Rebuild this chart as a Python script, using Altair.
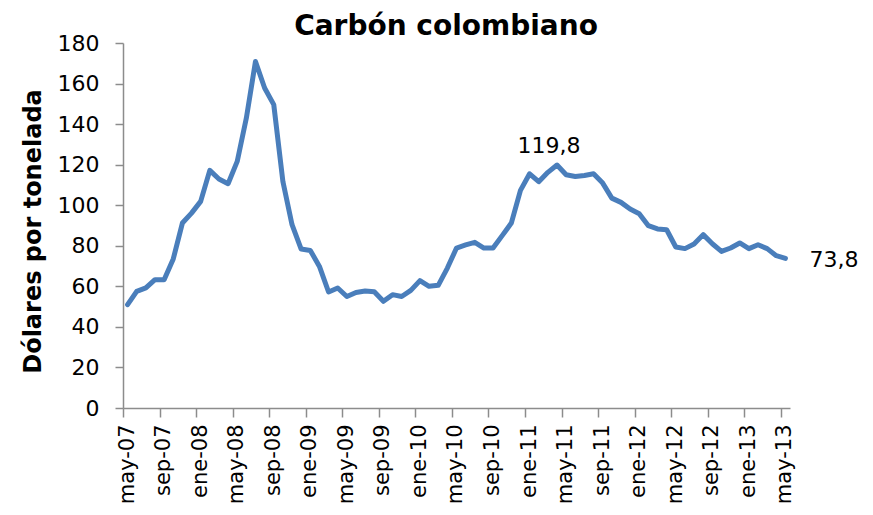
import altair as alt
import pandas as pd

# Data (monthly, may-07 .. may-13)
month_abbr = ["ene", "feb", "mar", "abr", "may", "jun", "jul", "ago", "sep", "oct", "nov", "dic"]
months = []
y, m = 2007, 4
for _ in range(73):
    months.append(f"{month_abbr[m]}-{str(y)[2:]}")
    m += 1
    if m == 12:
        m = 0
        y += 1

values = [
    51.0, 57.5, 59.2, 63.3, 63.3, 73.5, 91.2, 96.1, 101.9, 117.2,
    112.9, 110.6, 121.6, 143.0, 170.9, 157.8, 149.6, 111.7, 90.4, 78.4,
    77.7, 69.8, 57.2, 59.2, 55.0, 57.0, 57.7, 57.3, 52.6, 55.9,
    55.0, 58.0, 62.8, 60.0, 60.5, 69.0, 78.9, 80.4, 81.7, 78.9,
    78.9, 85.0, 91.2, 107.3, 115.5, 111.6, 116.2, 119.8, 115.0, 114.2,
    114.7, 115.5, 110.9, 103.5, 101.4, 98.1, 95.8, 89.9, 88.3, 87.9,
    79.4, 78.6, 80.9, 85.5, 81.0, 77.2, 78.9, 81.4, 78.6, 80.5,
    78.6, 75.1, 73.8,
]

tick_labels = ["may-07", "sep-07", "ene-08", "may-08", "sep-08", "ene-09", "may-09",
               "sep-09", "ene-10", "may-10", "sep-10", "ene-11", "may-11", "sep-11",
               "ene-12", "may-12", "sep-12", "ene-13", "may-13"]
y_ticks = [0, 20, 40, 60, 80, 100, 120, 140, 160, 180]

chart_title = "Carbón colombiano"
y_title = "Dólares por tonelada"
annot_peak = "abr-11"
annot_last = "may-13"

df = pd.DataFrame({"idx": list(range(len(values))), "mes": months, "valor": values})
title_df = pd.DataFrame({"t": [chart_title]})

tick_vals = [4 * k - 0.5 for k in range(len(tick_labels))]
label_arr = "[" + ",".join(f"'{t}'" for t in tick_labels) + "]"

FONT = "DejaVu Sans"
GRAY = "#8c8c8c"

x_enc = alt.X(
    "idx:Q",
    scale=alt.Scale(domain=[-0.5, len(values) - 0.5], nice=False, zero=False),
    axis=alt.Axis(
        values=tick_vals,
        tickCount=len(tick_vals) + 2,
        labelExpr=f"{label_arr}[round((datum.value + 0.5) / 4)]",
        labelAngle=270,
        labelOffset=4,
        labelPadding=7,
        labelFont=FONT,
        labelFontSize=21,
        labelColor="black",
        tickSize=9,
        tickColor=GRAY,
        tickWidth=1.5,
        domainColor=GRAY,
        domainWidth=1.5,
        grid=False,
        title=None,
        labelOverlap=False,
        labelBound=False,
        labelFlush=False,
    ),
)
y_enc = alt.Y(
    "valor:Q",
    scale=alt.Scale(domain=[0, 180], nice=False),
    axis=alt.Axis(
        values=y_ticks,
        tickCount=len(y_ticks) + 2,
        labelFont=FONT,
        labelFontSize=22,
        labelColor="black",
        labelPadding=16,
        tickSize=8,
        tickColor=GRAY,
        tickWidth=1.5,
        domainColor=GRAY,
        domainWidth=1.5,
        grid=False,
        title=y_title,
        titleFont=FONT,
        titleFontSize=24,
        titleFontWeight="bold",
        titleColor="black",
        titleAngle=270,
        titleAlign="center",
        titleBaseline="alphabetic",
        titleX=-83,
        titleY=188,
        labelOverlap=False,
    ),
)

base = alt.Chart(df)

line = base.mark_line(color="#4a7ebb", strokeWidth=5, strokeJoin="round", strokeCap="round").encode(
    x=x_enc, y=y_enc
)

fmt = "replace(format(datum.valor, '.1f'), '.', ',')"

peak_text = base.transform_filter(alt.datum.mes == annot_peak).transform_calculate(
    lbl=fmt
).mark_text(
    font=FONT, fontSize=22, color="black", align="center", baseline="alphabetic", dx=-8, dy=-12
).encode(x="idx:Q", y="valor:Q", text="lbl:N")

last_text = base.transform_filter(alt.datum.mes == annot_last).transform_calculate(
    lbl=fmt
).mark_text(
    font=FONT, fontSize=22, color="black", align="left", baseline="alphabetic", dx=24, dy=9
).encode(x="idx:Q", y="valor:Q", text="lbl:N")

title_mark = alt.Chart(title_df).mark_text(
    font=FONT, fontSize=28, fontWeight="bold", color="black", align="center", baseline="alphabetic"
).encode(x=alt.value(323), y=alt.value(-8), text="t:N")

chart = (
    alt.layer(line, peak_text, last_text, title_mark)
    .properties(
        width=667,
        height=365,
        autosize=alt.AutoSizeParams(type="none"),
        padding={"left": 115, "top": 35, "right": 74, "bottom": 99},
        background="white",
    )
    .configure_view(stroke=None)
)

chart.save("out.html", embed_options={"renderer": "svg", "actions": False})
